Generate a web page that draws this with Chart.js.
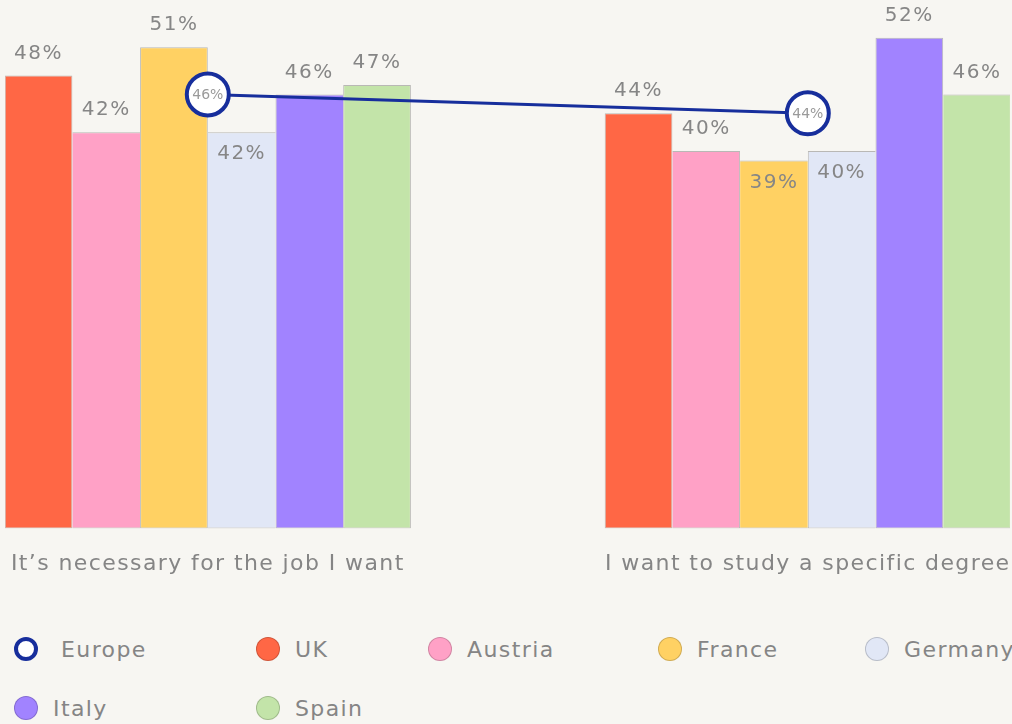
<!DOCTYPE html>
<html lang="en">

<head>
    <meta charset="UTF-8">
    <meta name="viewport" content="width=device-width, initial-scale=1.0">
    <title>Reasons to study</title>
    <style>
        body { margin: 0; background: #f7f6f2; font-family: "DejaVu Sans", sans-serif; }
        #marco { position: relative; width: 1012px; height: 724px; overflow: hidden; }
        #caja { position: absolute; left: 0; top: 0; width: 1012px; height: 591px; }
        #leyenda { position: absolute; left: 14px; top: 636px; display: grid;
                   grid-template-columns: 242px 172px 230px 207px 160px; row-gap: 33px; }
        .item { display: flex; align-items: center; height: 26px; font-size: 22px; letter-spacing: 1.4px;
                color: #858585; white-space: nowrap; }
        .punto { width: 24px; height: 24px; border-radius: 50%; box-sizing: border-box; margin-right: 15px;
                 border: 1px solid rgba(0, 0, 0, .18); flex: none; }
    </style>
</head>

<body>
    <div id="marco">
        <div id="caja"><canvas id="grafico"></canvas></div>
        <div id="leyenda"></div>
    </div>

    <script src="https://cdn.jsdelivr.net/npm/chart.js"></script>
    <script>
        // categorias y valores (%)
        const categorias = ["It’s necessary for the job I want", "I want to study a specific degree"]
        const paises = ["UK", "Austria", "France", "Germany", "Italy", "Spain"]
        const colores = ["#ff6745", "#ffa1c6", "#ffd163", "#e1e7f6", "#a183ff", "#c3e4a9"]
        const ukValores = [48, 44]
        const austriaValores = [42, 40]
        const franciaValores = [51, 39]
        const alemaniaValores = [42, 40]
        const italiaValores = [46, 52]
        const espanaValores = [47, 46]
        const europaValores = [46, 44]
        const colorEuropa = "#172e9c"

        const series = [ukValores, austriaValores, franciaValores, alemaniaValores, italiaValores, espanaValores]

        // borde gris solo donde la barra sobresale de su vecina
        function bordes(ctx) {
            let i = ctx.datasetIndex
            let j = ctx.dataIndex
            let v = series[i][j]
            let izq = (i === 0 || series[i - 1][j] < v) ? 1 : 0
            let der = (i === series.length - 1 || series[i + 1][j] < v) ? 1 : 0
            return { top: 1, bottom: 1, left: izq, right: der }
        }

        function choca(cx, cy, w, h, px, py, r) {
            let dx = Math.max(Math.abs(px - cx) - w / 2, 0)
            let dy = Math.max(Math.abs(py - cy) - h / 2, 0)
            return dx * dx + dy * dy < r * r
        }

        const espaciado = {
            id: 'espaciado',
            beforeDraw(chart) {
                chart.ctx.letterSpacing = '1.4px'
            }
        }

        const etiquetas = {
            id: 'etiquetas',
            afterDatasetsDraw(chart) {
                let ctx = chart.ctx
                let lineaMeta = chart.getDatasetMeta(series.length)
                ctx.save()
                ctx.font = '20px "DejaVu Sans"'
                ctx.letterSpacing = '1.5px'
                ctx.fillStyle = '#868686'
                ctx.textAlign = 'center'
                ctx.textBaseline = 'middle'
                series.forEach((serie, i) => {
                    chart.getDatasetMeta(i).data.forEach((barra, j) => {
                        let texto = serie[j] + '%'
                        let ancho = ctx.measureText(texto).width
                        let y = barra.y - 22
                        let p = lineaMeta.data[j]
                        if (choca(barra.x, y, ancho, 18, p.x, p.y, 27)) {
                            y = barra.y + 22
                        }
                        ctx.fillText(texto, barra.x, y)
                    })
                })
                ctx.font = '14px "DejaVu Sans"'
                ctx.letterSpacing = '0px'
                ctx.fillStyle = '#9a9a9a'
                lineaMeta.data.forEach((p, j) => {
                    ctx.fillText(europaValores[j] + '%', p.x, p.y + 1)
                })
                ctx.restore()
            }
        }

        let datasetChart = series.map((serie, i) => ({
            type: 'bar',
            label: paises[i],
            data: serie.map((v, j) => ({ x: j, y: v })),
            backgroundColor: colores[i],
            borderColor: 'rgba(0, 0, 0, 0.25)',
            borderWidth: bordes,
            borderSkipped: false,
            order: 1
        }))

        datasetChart.push({
            type: 'line',
            label: 'Europe',
            data: europaValores.map((v, j) => ({ x: j, y: v })),
            borderColor: colorEuropa,
            borderWidth: 3,
            pointRadius: 21,
            pointBorderWidth: 4,
            pointBackgroundColor: '#ffffff',
            pointBorderColor: colorEuropa,
            clip: false,
            order: 0
        })

        Chart.defaults.font.family = '"DejaVu Sans", sans-serif'

        new Chart(document.querySelector("#grafico"), {
            type: 'bar',
            data: { datasets: datasetChart },
            options: {
                responsive: true,
                maintainAspectRatio: false,
                animation: false,
                layout: { autoPadding: false, padding: { left: 5, right: 2, top: 0, bottom: 0 } },
                datasets: { bar: { categoryPercentage: 0.677, barPercentage: 1 } },
                plugins: { legend: { display: false }, tooltip: { enabled: false } },
                scales: {
                    x: {
                        type: 'linear',
                        min: -0.338,
                        max: 1.337,
                        offset: false,
                        grid: { display: false },
                        border: { display: false },
                        afterBuildTicks: (eje) => {
                            eje.ticks = categorias.map((c, i) => ({ value: i }))
                        },
                        afterFit: (eje) => {
                            eje.paddingLeft = 0
                            eje.paddingRight = 0
                        },
                        ticks: {
                            callback: (v) => categorias[v],
                            font: { size: 22 },
                            color: '#858585',
                            padding: 14,
                            autoSkip: false,
                            maxRotation: 0
                        }
                    },
                    y: { display: false, min: 0, max: 56 }
                }
            },
            plugins: [espaciado, etiquetas]
        })

        // leyenda en html
        let leyenda = document.querySelector("#leyenda")
        let nombres = ["Europe", ...paises]
        nombres.forEach((nombre, i) => {
            let item = document.createElement("div")
            item.className = "item"
            let punto = document.createElement("span")
            punto.className = "punto"
            if (i === 0) {
                punto.style.background = "#ffffff"
                punto.style.border = "4px solid " + colorEuropa
                punto.style.marginRight = "23px"
            } else {
                punto.style.background = colores[i - 1]
            }
            item.appendChild(punto)
            item.appendChild(document.createTextNode(nombre))
            leyenda.appendChild(item)
        })
    </script>
</body>

</html>
